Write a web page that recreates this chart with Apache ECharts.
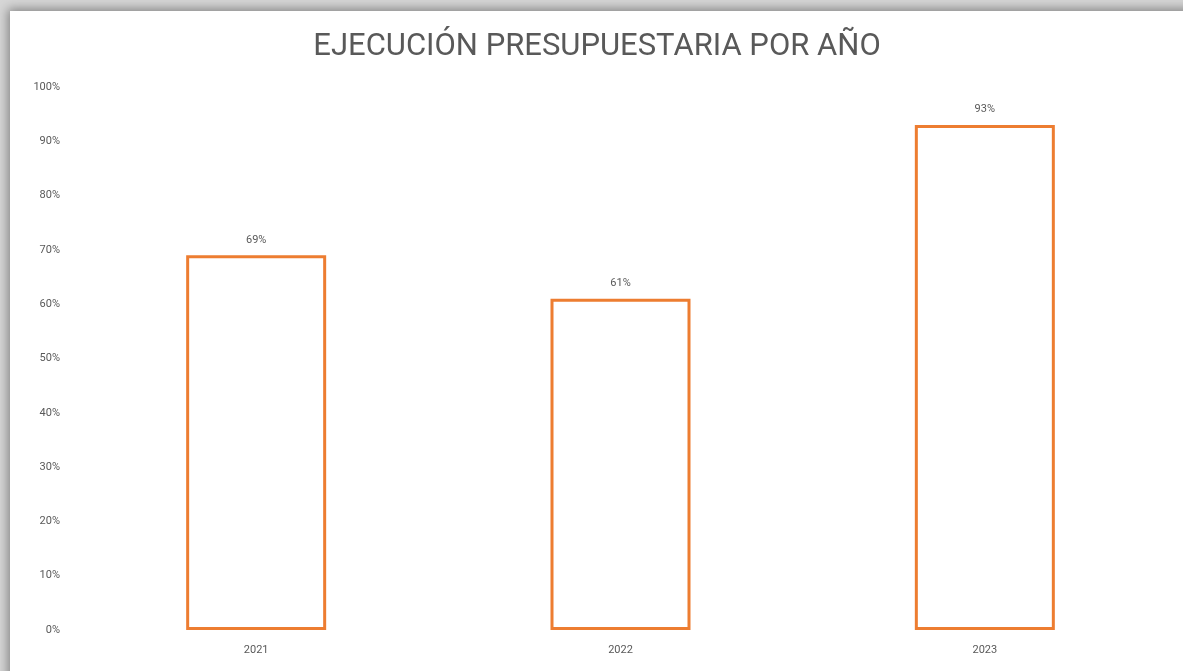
<!DOCTYPE html>
<html>
<head>
<meta charset="utf-8">
<script src="https://cdn.jsdelivr.net/npm/echarts@6/dist/echarts.min.js"></script>
<style>
html,body{margin:0;padding:0;width:1183px;height:671px;overflow:hidden;background:#d6d6d6;}
#panel{position:absolute;left:10px;top:11px;width:1200px;height:700px;background:#fff;box-shadow:0 0 10px 2px rgba(0,0,0,0.4);}
#chart{position:absolute;left:0;top:0;width:1183px;height:671px;}
</style>
</head>
<body>
<div id="panel"></div>
<div id="chart"></div>
<script>
const titleText = 'EJECUCIÓN PRESUPUESTARIA POR AÑO';
const categories = ['2021', '2022', '2023'];
const values = [69, 61, 93];
const yTicks = [0, 10, 20, 30, 40, 50, 60, 70, 80, 90, 100];

const chart = echarts.init(document.getElementById('chart'), null, {renderer: 'canvas'});
chart.setOption({
  backgroundColor: 'transparent',
  animation: false,
  title: {
    text: titleText,
    left: 592,
    top: 27,
    textAlign: 'center',
    textStyle: {fontFamily: 'Roboto', fontSize: 31, fontWeight: 'normal', color: '#595959'}
  },
  grid: {left: 74, right: 16, top: 87, bottom: 41, containLabel: false},
  xAxis: {
    type: 'category',
    data: categories,
    axisLine: {show: false},
    axisTick: {show: false},
    axisLabel: {fontFamily: 'Roboto', fontSize: 11, color: '#595959', margin: 15}
  },
  yAxis: {
    type: 'value',
    min: yTicks[0],
    max: yTicks[yTicks.length - 1],
    interval: 10,
    splitLine: {show: false},
    axisLine: {show: false},
    axisTick: {show: false},
    axisLabel: {fontFamily: 'Roboto', fontSize: 11, color: '#595959', margin: 14, formatter: v => v + '%'}
  },
  series: [{
    type: 'bar',
    data: values,
    barWidth: 140,
    itemStyle: {color: '#ffffff', borderColor: '#ED7D31', borderWidth: 3},
    label: {
      show: true,
      position: 'top',
      distance: 10,
      formatter: p => p.value + '%',
      fontFamily: 'Roboto', fontSize: 11, color: '#595959'
    }
  }]
});
</script>
</body>
</html>
